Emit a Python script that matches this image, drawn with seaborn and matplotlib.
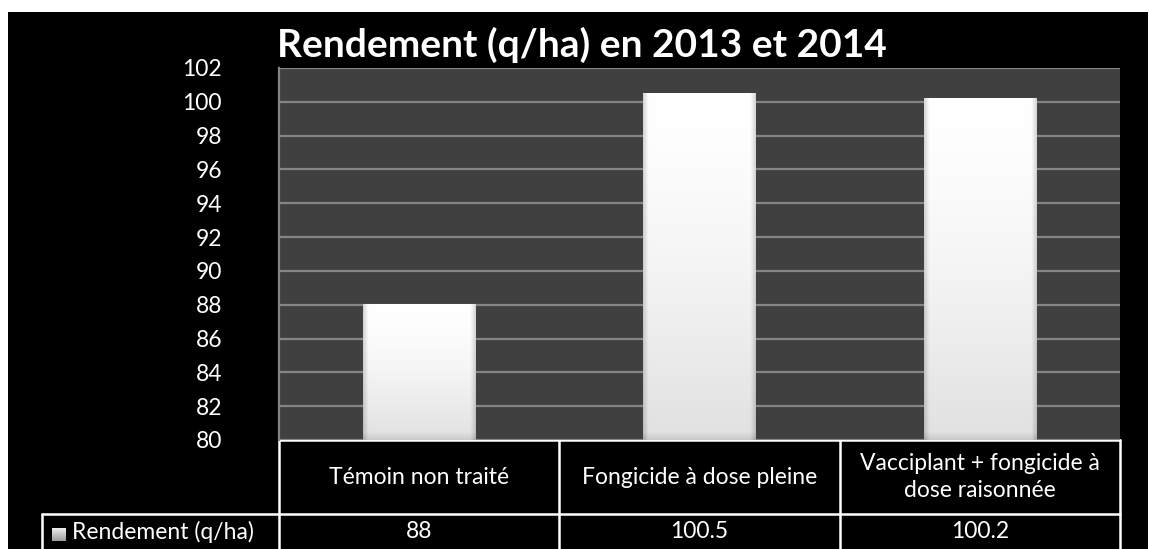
import numpy as np
import matplotlib
matplotlib.use("Agg")
import matplotlib.pyplot as plt
import matplotlib.transforms as mtransforms
from matplotlib.patches import Rectangle
from matplotlib.lines import Line2D
import seaborn as sns

# Yield per treatment, quintals per hectare (2013-2014 average)
categories = ["Témoin non traité", "Fongicide à dose pleine",
              "Vacciplant + fongicide à\ndose raisonnée"]
values = [88, 100.5, 100.2]
value_labels = ["88", "100.5", "100.2"]
series_name = "Rendement (q/ha)"
title = "Rendement (q/ha) en 2013 et 2014"
y_ticks = list(range(80, 103, 2))
Y_MIN, Y_MAX = 80, 102

sns.set_style("dark")
plt.rcParams["font.family"] = ["Lato", "DejaVu Sans"]

W, H, DPI = 1149, 549, 100
FS = 16.5
fig = plt.figure(figsize=(W / DPI, H / DPI), dpi=DPI, facecolor="white")

def fx(px):
    return px / W

def fy(py):
    return 1 - py / H

# black chart frame inside a thin white margin
fig.patches.append(Rectangle((fx(8), 0), fx(W - 1) - fx(8), fy(12), transform=fig.transFigure,
                             facecolor="black", edgecolor="none", zorder=-10))

ax = fig.add_axes([fx(279), fy(440), fx(1120) - fx(279), fy(68) - fy(440)], zorder=2)
ax.set_facecolor("#404040")

sns.barplot(x=categories, y=values, ax=ax, color="white", width=0.4,
            edgecolor="none", saturation=1, zorder=3)

ax.set_ylim(Y_MIN, Y_MAX)
ax.set_xlim(-0.5, len(categories) - 0.5)
ax.set_yticks(y_ticks)
ax.set_yticklabels([str(t) for t in y_ticks])
ax.yaxis.grid(True, color="#858585", linewidth=1.6, zorder=1)
ax.xaxis.grid(False)
ax.set_axisbelow(True)
ax.set_xticks([])
ax.set_xlabel("")
ax.set_ylabel("")
ax.tick_params(axis="y", colors="white", labelsize=FS, length=0, pad=41)
for s in ["top", "right", "bottom"]:
    ax.spines[s].set_visible(False)
ax.spines["left"].set_color("#858585")
ax.spines["left"].set_linewidth(1.6)

# soft bevelled shading for the visible part of each bar
def bar_shade(nx=120, ny=300, bevel_x=0.045, bevel_y=0.02):
    xs = np.linspace(0, 1, nx)[None, :]
    ys = np.linspace(0, 1, ny)[:, None]
    base = 1.0 - 0.12 * ys ** 1.5
    edge = np.minimum(xs, 1 - xs)
    side = np.clip(edge / bevel_x, 0, 1)
    shade = base * (0.84 + 0.16 * side)
    bottom = np.clip((1 - ys) / bevel_y, 0, 1)
    shade = shade * (0.9 + 0.1 * bottom)
    return np.dstack([shade, shade, shade])

for patch in ax.patches:
    x0, w = patch.get_x(), patch.get_width()
    top = patch.get_y() + patch.get_height()
    height_frac = (top - Y_MIN) / (Y_MAX - Y_MIN)
    img = bar_shade(ny=300, bevel_y=0.02 / max(height_frac, 0.05))
    ax.imshow(img, extent=[x0, x0 + w, Y_MIN, top], aspect="auto",
              origin="upper", zorder=4, interpolation="bilinear")
ax.set_xlim(-0.5, len(categories) - 0.5)
ax.set_ylim(Y_MIN, Y_MAX)

fig.text(fx(582), fy(45), title, color="white", fontsize=28, fontweight="bold",
         ha="center", va="center")

# data table under the plot
tr = mtransforms.blended_transform_factory(ax.transData, fig.transFigure)
n = len(categories)
row_top, row_mid, row_bot = fy(440), fy(514), fy(H + 5)
lw = 1.8
fig.add_artist(Line2D([-0.5, n - 0.5], [row_top, row_top], transform=tr, color="white", lw=lw))
fig.add_artist(Line2D([-0.5, n - 0.5], [row_mid, row_mid], transform=tr, color="white", lw=lw))
fig.add_artist(Line2D([fx(42), fx(279)], [row_mid, row_mid], transform=fig.transFigure,
                      color="white", lw=lw))
fig.add_artist(Line2D([fx(42), fx(42)], [row_mid, row_bot], transform=fig.transFigure,
                      color="white", lw=lw))
for i in range(n + 1):
    fig.add_artist(Line2D([i - 0.5, i - 0.5], [row_top, row_bot], transform=tr,
                          color="white", lw=lw))

for i, (cat, lab) in enumerate(zip(categories, value_labels)):
    fig.text(i, (row_top + row_mid) / 2, cat, transform=tr, color="white", fontsize=FS,
             ha="center", va="center", linespacing=1.35)
    fig.text(i, fy(532), lab, transform=tr, color="white", fontsize=FS,
             ha="center", va="center")

# legend key in the table
key = np.dstack([np.linspace(0.95, 0.62, 20)[:, None] * np.ones((20, 20))] * 3)
kax = fig.add_axes([fx(52), fy(541), fx(14), fy(528) - fy(541)], zorder=3)
kax.imshow(key, aspect="auto")
kax.axis("off")
fig.text(fx(72), fy(532), series_name, color="white", fontsize=FS, ha="left", va="center")

fig.savefig("out.png", dpi=DPI, facecolor=fig.get_facecolor())
